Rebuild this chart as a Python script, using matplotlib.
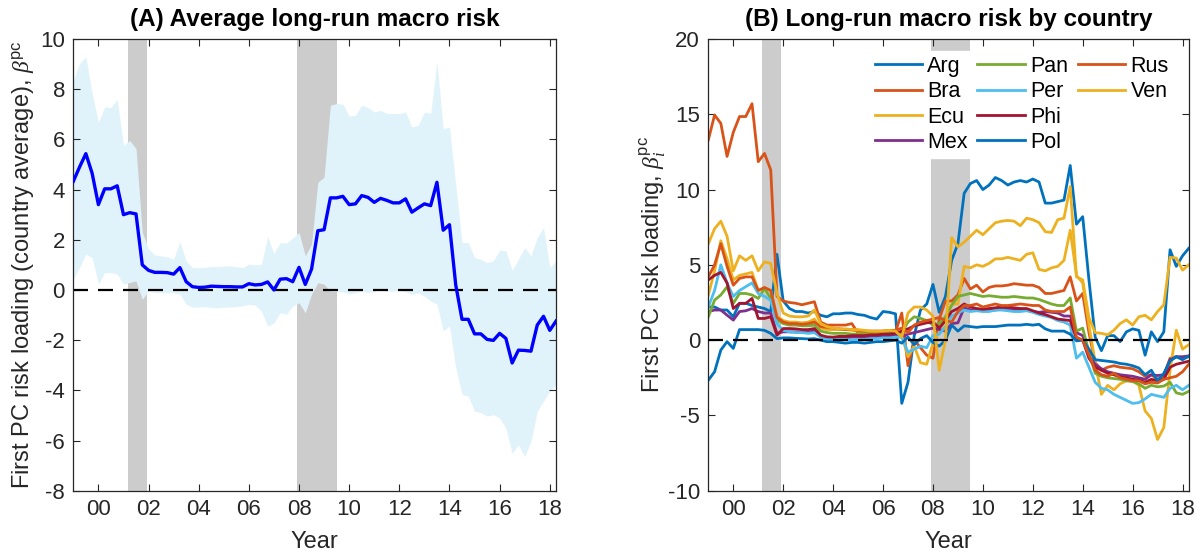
import numpy as np
import pandas as pd
import matplotlib
matplotlib.use("Agg")
import matplotlib.pyplot as plt
from matplotlib.lines import Line2D

plt.rcParams['font.family'] = ['Liberation Sans', 'DejaVu Sans']
plt.rcParams['axes.unicode_minus'] = False
plt.rcParams['mathtext.fontset'] = 'custom'
plt.rcParams['mathtext.rm'] = 'Liberation Sans'
plt.rcParams['mathtext.it'] = 'Liberation Serif:italic'

# quarterly sample 1999Q1 - 2018Q2
quarters = pd.period_range('1999Q1', '2018Q2', freq='Q')
t = np.asarray(quarters.year + (quarters.quarter - 1) / 4.0, dtype=float)

# NBER recessions (start, end) in decimal years
recessions = [(2001.17, 2001.92), (2007.92, 2009.5)]

# panel A: cross-country average loading and its band
avg_beta = [4.33, 4.9, 5.43, 4.65, 3.4, 4.03, 4.03, 4.15, 3.0, 3.08, 3.03, 1.0,
            0.78, 0.7, 0.7, 0.69, 0.63, 0.89, 0.33, 0.13, 0.1, 0.11, 0.15, 0.14, 0.13, 0.13, 0.12, 0.12,
            0.25, 0.2, 0.22, 0.32, 0.0, 0.43, 0.45, 0.33, 0.9, 0.22, 0.83, 2.36, 2.4,
            3.67, 3.67, 3.73, 3.4, 3.43, 3.76, 3.69, 3.49, 3.65, 3.57, 3.47, 3.47, 3.63, 3.1, 3.27, 3.43, 3.36,
            4.29, 2.38, 2.6, 0.2,
            -1.17, -1.17, -1.75, -1.75, -1.97, -2.01, -1.73, -1.93, -2.91, -2.4, -2.41, -2.44, -1.4, -1.05, -1.61, -1.24]
band_hi = [8.36, 9.03, 9.29, 7.83, 6.69, 7.29, 7.27, 7.6, 5.76, 5.96, 5.63, 2.3,
           1.63, 1.4, 1.36, 1.32, 1.23, 1.93, 1.16, 0.89, 0.89, 0.9, 0.93, 0.93, 0.95, 0.96, 0.93, 0.89,
           1.03, 1.0, 1.03, 2.12, 1.45, 1.89, 1.87, 2.07, 2.29, 1.36, 1.83, 4.29, 4.49,
           7.36, 7.43, 7.4, 6.93, 6.96, 7.36, 7.27, 7.09, 7.16, 7.03, 7.03, 7.03, 7.09, 6.49, 6.56, 7.09, 7.03,
           9.09, 6.43, 6.49, 4.2,
           1.89, 1.89, 1.29, 1.23, 1.09, 1.16, 1.59, 1.56, 0.79, 1.23, 1.69, 1.36, 2.09, 2.49, 0.89, 1.16]
band_lo = [0.43, 0.9, 1.43, 1.29, 0.23, 0.69, 0.69, 0.63, 0.23, 0.3, 0.36, -0.37,
           -0.04, -0.11, -0.11, -0.11, -0.11, -0.17, -0.57, -0.68, -0.68, -0.66, -0.71, -0.71, -0.69, -0.68, -0.66, -0.64,
           -0.57, -0.61, -0.84, -1.44, -1.31, -0.91, -0.97, -0.64, -0.51, -0.91, -0.17, 0.29, 0.23,
           -0.05, -0.05, -0.08, -0.15, -0.12, -0.05, -0.1, -0.08, 0.07, -0.05, -0.05, -0.02, -0.08, -0.17, -0.12, -0.24, -0.44,
           -0.57, -1.63, -1.43, -3.1,
           -4.17, -4.23, -4.83, -4.89, -5.03, -4.97, -5.1, -5.51, -6.51, -6.17, -6.64, -6.04, -4.83, -4.44, -4.04, -3.77]

# panel B: country loadings
countries = ['Arg', 'Bra', 'Ecu', 'Mex', 'Pan', 'Per', 'Phi', 'Pol', 'Rus', 'Ven']
arg = [2.2, 2.2, 2.0, 2.0, 1.55, 2.45, 2.45, 2.3, 2.2, 2.1, 1.9, 5.7,
       2.6, 2.1, 1.9, 1.9, 1.8, 1.9, 1.65, 1.55, 1.75,
       1.75, 1.8, 1.8, 1.7, 1.65, 1.5, 1.4, 1.9, 1.85, 1.75,
       -4.2, -2.8, 0.3, 2.0, 2.4, 3.7, 1.85, 2.9, 5.3, 6.4, 9.75,
       10.4, 10.6, 10.0, 10.3, 10.8, 10.6, 10.3, 10.5, 10.6, 10.5, 10.7, 10.5, 9.1, 9.1, 9.2, 9.3,
       11.6, 7.7, 8.2, 4.0,
       0.2, -0.7, 0.3, 0.3, -0.1, 0.55, 0.75, 0.65, -1.0, 0.55, -0.1, 0.55, 6.0, 4.9, 5.6, 6.1]
bra = [13.3, 14.95, 14.4, 12.2, 13.8, 14.85, 14.85, 15.7, 11.85, 12.4, 11.3, 2.9,
       2.6, 2.5, 2.45, 2.35, 2.45, 2.55, 1.2, 1.0, 1.0,
       1.0, 1.0, 1.1, 0.45, 0.45, 0.5, 0.5, 0.55, 0.55, 0.55,
       1.8, -1.7, 0.0, -0.5, -1.0, -1.2, 1.4, 2.6, 2.6, 3.0, 4.1,
       3.4, 3.65, 3.2, 3.5, 3.6, 3.6, 3.65, 3.75, 3.7, 3.65, 3.65, 3.5, 3.1, 3.1, 3.2, 3.3,
       4.2, 2.6, 3.1, 0.5,
       -1.5, -2.0, -1.8, -1.7, -1.8, -1.85, -1.9, -2.1, -2.4, -2.3, -2.6, -2.4, -1.2, -1.1, -1.2, -1.1]
ecu = [3.0, 4.6, 6.6, 5.4, 4.0, 4.3, 4.4, 4.5, 3.3, 3.4, 3.3, 1.6,
       1.3, 1.2, 1.2, 1.15, 1.2, 1.4, 0.8, 0.7, 0.7,
       0.7, 0.7, 0.65, 0.6, 0.6, 0.55, 0.55, 0.6, 0.6, 0.6,
       0.3, -1.1, -0.4, -1.5, -1.6, -0.2, 0.5, 1.5, 2.4, 2.4, 4.9,
       4.8, 5.0, 4.9, 5.1, 5.4, 5.4, 5.5, 5.4, 5.3, 5.7, 5.8, 4.7, 4.6, 4.8, 4.9, 5.3,
       7.3, 4.3, 3.8, 1.0,
       -1.5, -3.6, -3.0, -3.3, -2.9, -2.7, -2.7, -3.0, -4.7, -5.2, -6.6, -5.8, -2.0, 0.66, -0.6, -0.3]
mex = [1.9, 2.0, 2.0, 1.66, 1.33, 1.9, 1.95, 2.1, 1.9, 1.8, 1.8, 0.44,
       0.55, 0.55, 0.55, 0.55, 0.55, 0.6, 0.22, 0.15, 0.1,
       0.15, 0.15, 0.2, 0.2, 0.2, 0.25, 0.25, 0.3, 0.3, 0.3,
       0.2, 0.4, 0.5, 0.6, 0.7, 0.8, 0.7, 0.6, 1.1, 1.15, 2.15,
       2.0, 2.0, 1.95, 2.0, 2.0, 2.05, 2.05, 2.0, 2.0, 2.0, 1.9, 1.85, 1.9, 1.85, 1.8, 1.6,
       1.6, 0.5, 0.3, -1.0,
       -1.6, -1.9, -2.1, -2.2, -2.3, -2.35, -2.4, -2.5, -2.6, -2.3, -2.35, -2.3, -1.3, -1.1, -1.1, -1.05]
pan = [1.55, 2.66, 3.0, 3.54, 2.44, 3.1, 3.1, 3.0, 2.77, 3.43, 2.77, 1.33,
       1.1, 1.0, 1.0, 0.95, 0.95, 1.0, 0.6, 0.5, 0.45,
       0.45, 0.45, 0.4, 0.4, 0.4, 0.4, 0.4, 0.45, 0.45, 0.5,
       0.5, 1.2, 1.55, 1.45, 1.3, 1.0, 1.1, 1.55, 2.3, 2.9, 3.0,
       3.1, 3.0, 2.9, 2.95, 2.9, 2.85, 2.85, 2.9, 2.85, 2.8, 2.8, 2.7, 2.55, 2.4, 2.3, 2.3,
       2.8, 0.6, 0.8, -0.8,
       -2.2, -2.4, -2.5, -2.55, -2.6, -2.7, -2.75, -2.9, -3.2, -3.0, -3.1, -3.05, -2.8, -3.5, -3.6, -3.4]
per = [2.2, 3.3, 5.0, 3.8, 2.9, 3.3, 3.55, 3.8, 3.1, 2.9, 2.65, 1.1,
       0.65, 0.55, 0.5, 0.5, 0.45, 0.5, 0.2, 0.1, 0.05,
       0.05, 0.05, 0.0, 0.05, 0.05, 0.1, 0.1, 0.15, 0.15, 0.2,
       0.2, -0.8, -0.6, -0.4, -0.5, 0.3, 0.4, 0.9, 1.6, 1.8, 2.0,
       1.9, 1.95, 1.9, 1.9, 2.0, 2.0, 1.95, 1.9, 1.9, 1.95, 1.85, 1.7, 1.6, 1.5, 1.3, 1.2,
       1.0, -1.2, -0.8, -1.8,
       -2.8, -3.2, -3.3, -3.6, -3.8, -4.0, -4.2, -4.15, -3.9, -3.6, -3.7, -3.8, -3.2, -3.0, -3.3, -3.0]
phi = [4.0, 4.3, 4.5, 3.8, 2.1, 2.44, 2.44, 2.77, 1.44, 1.44, 1.55, 0.33,
       0.77, 0.77, 0.75, 0.7, 0.7, 0.77, 0.33, 0.22, 0.2,
       0.25, 0.25, 0.3, 0.3, 0.3, 0.35, 0.35, 0.4, 0.4, 0.45,
       0.6, 0.75, 0.95, 1.05, 1.15, 1.2, 0.8, 1.3, 1.9, 2.1, 2.4,
       2.2, 2.1, 2.05, 2.1, 2.15, 2.2, 2.2, 2.15, 2.1, 2.1, 1.95, 1.8, 1.7, 1.55, 1.4, 1.35,
       1.3, 0.1, 0.0, -1.2,
       -1.8, -2.0, -2.2, -2.3, -2.45, -2.5, -2.6, -2.65, -2.8, -2.6, -2.7, -2.6, -1.8, -1.6, -1.5, -1.4]
pol = [-2.66, -2.1, -0.66, -0.1, -0.55, 0.7, 0.7, 0.7, 0.7, 0.65, 0.45, 0.1,
       0.15, 0.15, 0.12, 0.1, 0.08, 0.1, 0.0, -0.1, -0.1,
       -0.15, -0.2, -0.15, -0.15, -0.2, -0.15, -0.1, -0.1, -0.05, 0.0,
       -0.2, 0.2, -0.3, 0.1, 0.3, -0.15, -0.4, 0.0, 1.0, 0.6, 0.95,
       0.9, 0.85, 0.9, 0.9, 0.9, 0.95, 1.0, 1.0, 1.0, 1.05, 1.0, 1.05, 0.75, 0.6, 0.6, 0.6,
       0.4, -0.05, 0.0, -0.6,
       -1.3, -1.35, -1.4, -1.45, -1.55, -1.6, -1.7, -1.85, -2.3, -2.0, -2.7, -2.2, -1.4, -1.1, -1.3, -1.05]
rus = [4.2, 5.0, 6.4, 4.9, 3.65, 4.1, 4.2, 4.2, 3.3, 3.5, 3.3, 1.5,
       1.2, 1.1, 1.1, 1.05, 1.1, 1.2, 0.9, 0.85, 0.8,
       0.75, 0.7, 0.7, 0.65, 0.6, 0.6, 0.6, 0.6, 0.65, 0.65,
       0.8, 0.5, 1.0, 1.2, 1.3, 1.4, 1.5, 1.3, 1.2, 1.9, 2.3,
       2.3, 2.4, 2.2, 2.3, 2.4, 2.3, 2.3, 2.35, 2.4, 2.35, 2.3, 2.3, 2.0, 1.9, 1.9, 1.9,
       2.2, 0.2, 0.0, -1.0,
       -2.0, -2.3, -2.4, -2.2, -2.5, -2.6, -2.7, -2.7, -2.9, -2.8, -2.85, -2.6, -2.5, -2.4, -2.1, -1.6]
ven = [6.4, 7.4, 7.9, 6.9, 4.6, 5.6, 5.3, 5.6, 4.6, 5.2, 5.1, 3.1,
       1.8, 1.6, 1.55, 1.55, 1.6, 2.0, 1.1, 0.9, 0.8,
       0.75, 0.75, 0.7, 0.7, 0.65, 0.6, 0.6, 0.6, 0.65, 0.6,
       0.2, 1.8, 2.2, 2.2, 2.0, 1.6, -2.0, 0.0, 6.8, 6.2, 6.5,
       6.9, 7.3, 7.0, 7.4, 7.8, 7.9, 7.95, 7.9, 7.6, 8.1, 8.0, 7.8, 7.2, 7.15, 8.0, 8.1,
       10.2, 4.2, 4.0, 1.5,
       0.5, 0.45, 0.35, 0.66, 1.1, 1.35, 1.0, 1.55, 1.65, 1.35, 1.9, 2.35, 5.5, 5.45, 4.65, 5.0]
country_series = [arg, bra, ecu, mex, pan, per, phi, pol, rus, ven]
country_colors = ['#0072BD', '#D95319', '#EDB120', '#7E2F8E', '#77AC30',
                  '#4DBEEE', '#A2142F', '#0072BD', '#D95319', '#EDB120']

year_ticks = list(range(2000, 2019, 2))
year_labels = ['%02d' % (y % 100) for y in year_ticks]

INK = '#262626'


def style_axes(ax):
    ax.set_xlim(1999, 2018.25)
    ax.set_xticks(year_ticks)
    ax.set_xticklabels(year_labels)
    ax.tick_params(direction='in', top=True, right=True, length=5, width=0.8,
                   labelsize=16, colors=INK, pad=6)
    for s in ax.spines.values():
        s.set_color(INK)
        s.set_linewidth(0.9)
    ax.set_xlabel('Year', fontsize=17, color=INK, labelpad=8)


def shade_recessions(ax):
    for a, b in recessions:
        ax.axvspan(a, b, color='#CCCCCC', lw=0, zorder=0)


fig = plt.figure(figsize=(12.02, 5.57), dpi=100)

# (A) average
ax1 = fig.add_axes([0.061, 0.119, 0.4016, 0.811])
shade_recessions(ax1)
ax1.fill_between(t, band_lo, band_hi, color='#E1F3FA', lw=0, zorder=1)
ax1.axhline(0, color='black', lw=1.6, dashes=(6.75, 4.5), zorder=2)
ax1.plot(t, avg_beta, color='#0000FF', lw=2.4, zorder=3)
ax1.set_ylim(-8, 10)
ax1.set_yticks(range(-8, 11, 2))
style_axes(ax1)
ax1.set_ylabel(r'First PC risk loading (country average), $\beta^{\mathrm{pc}}$',
               fontsize=17, color=INK, labelpad=3)
ax1.set_title('(A) Average long-run macro risk', fontsize=17.5, fontweight='bold', pad=9)

# (B) by country
ax2 = fig.add_axes([0.5893, 0.119, 0.3997, 0.811])
shade_recessions(ax2)
for name, vals, c in zip(countries, country_series, country_colors):
    ax2.plot(t, vals, color=c, lw=2.0, label=name, zorder=2)
ax2.axhline(0, color='black', lw=1.6, dashes=(6.75, 4.5), zorder=3)
ax2.set_ylim(-10, 20)
ax2.set_yticks(range(-10, 21, 5))
style_axes(ax2)
ax2.set_ylabel(r'First PC risk loading, $\beta_{i}^{\mathrm{pc}}$',
               fontsize=17, color=INK, labelpad=0)
ax2.set_title('(B) Long-run macro risk by country', fontsize=17.5, fontweight='bold', pad=9)

# pad the last column with two empty slots so the legend reads 4 / 4 / 2
handles, labels = ax2.get_legend_handles_labels()
blank = Line2D([], [], color='none')
handles += [blank, blank]
labels += ['', '']
leg = ax2.legend(handles, labels, ncol=3, loc='upper left', bbox_to_anchor=(0.336, 0.973),
                 fontsize=15.5, frameon=True, framealpha=1, edgecolor='white', facecolor='white',
                 fancybox=False, handlelength=2.2, handletextpad=0.25, columnspacing=0.45,
                 labelspacing=0.2, borderpad=0.22, borderaxespad=0)
leg.set_zorder(5)

fig.savefig('out.png', dpi=100)
